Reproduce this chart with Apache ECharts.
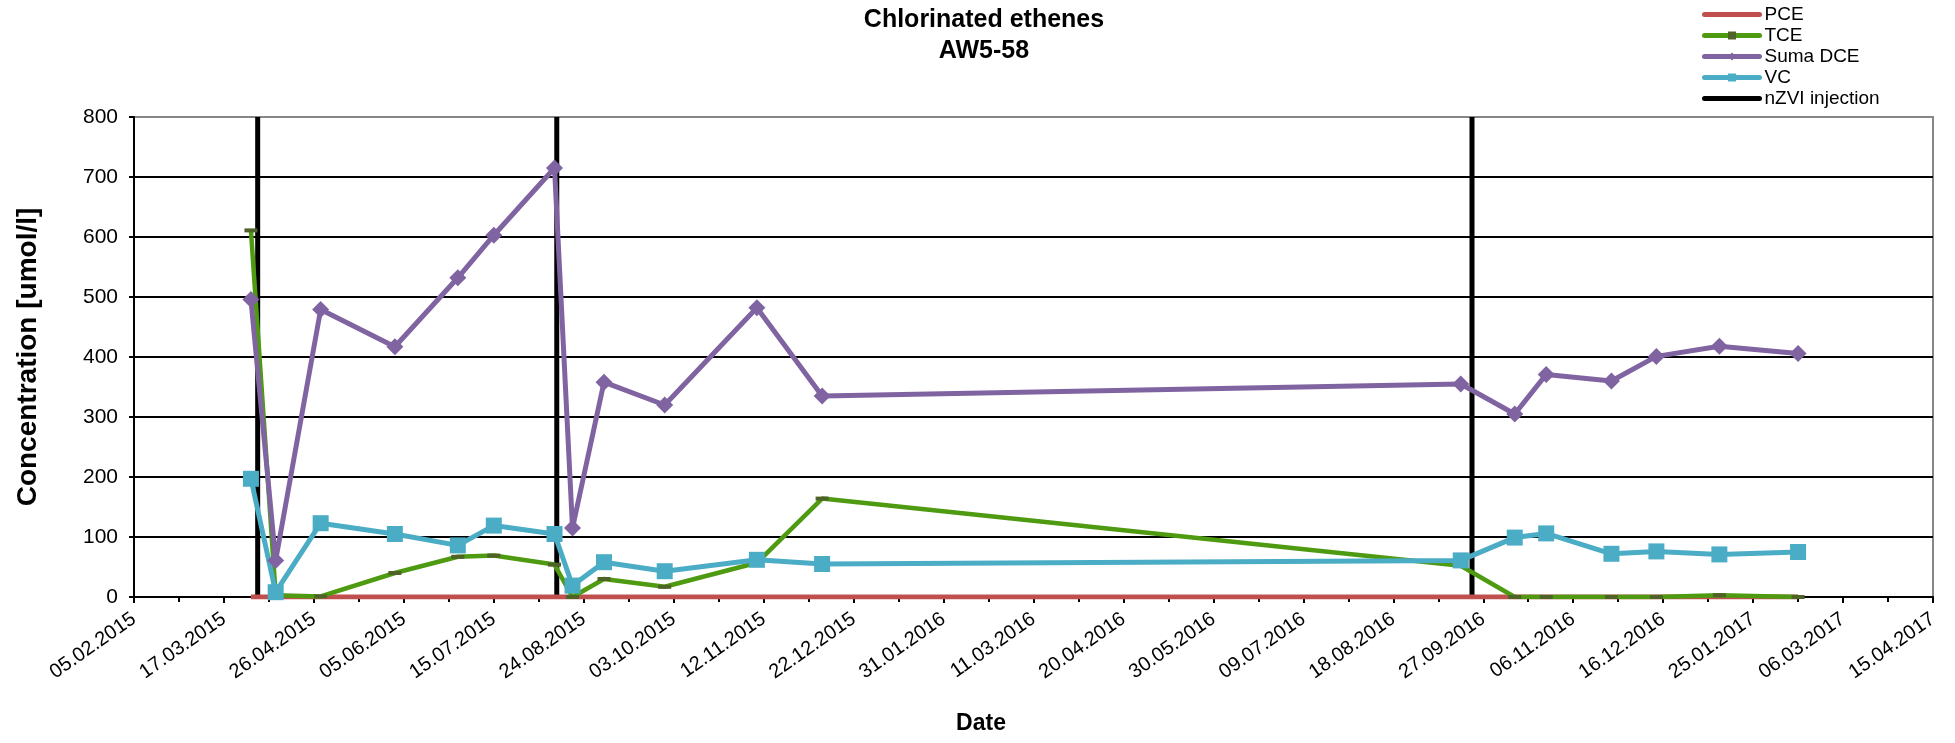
<!DOCTYPE html>
<html>
<head>
<meta charset="utf-8">
<script src="https://cdn.jsdelivr.net/npm/echarts@6/dist/echarts.min.js"></script>
<style>
html,body{margin:0;padding:0;background:#fff;}
#chart{width:1955px;height:743px;}
</style>
</head>
<body>
<div id="chart"></div>
<script>
// ---- data ----
var baseDate = '2015-02-05';           // axis start (05.02.2015)
var endDate = '2017-04-15';            // axis end (15.04.2017)
var sampleDates = ['2015-03-29','2015-04-09','2015-04-29','2015-06-01','2015-06-29','2015-07-15','2015-08-11','2015-08-19','2015-09-02','2015-09-29','2015-11-09','2015-12-08','2016-09-17','2016-10-11','2016-10-25','2016-11-23','2016-12-13','2017-01-10','2017-02-14'];
var pce = [0,0,0,0,0,0,0,0,0,0,0,0,0,0,0,0,0,0,0];
var tce = [611,3,1,40,67,69,54,0,30,17,57,164,52,0,0,0,0,3,0];
var sumaDce = [496,61,479,417,532,603,715,115,358,320,482,335,355,305,371,360,401,418,406];
var vc = [197,8,123,105,86,119,105,19,58,43,62,55,61,99,106,72,76,71,75];
var injectionDates = ['2015-04-01','2015-08-12','2016-09-22'];
var yTicks = [0,100,200,300,400,500,600,700,800];

// ---- helpers ----
var DAY = 86400000;
function toMs(s){ var p = s.split('-'); return Date.UTC(+p[0], +p[1]-1, +p[2]); }
function dayOf(s){ return Math.round((toMs(s) - toMs(baseDate)) / DAY); }
function fmt(v){
  var d = new Date(toMs(baseDate) + Math.round(v) * DAY);
  var dd = ('0' + d.getUTCDate()).slice(-2), mm = ('0' + (d.getUTCMonth()+1)).slice(-2);
  return dd + '.' + mm + '.' + d.getUTCFullYear();
}
function pairs(vals){ return sampleDates.map(function(s,i){ return [dayOf(s), vals[i]]; }); }

var FONT = '"Liberation Sans", Arial, sans-serif';
var chart = echarts.init(document.getElementById('chart'), null, {renderer:'canvas'});

var series = [
  {name:'PCE', type:'line', data:pairs(pce), symbol:'none', z:3,
   lineStyle:{color:'#C0504D', width:5}, itemStyle:{color:'#C0504D'}},
  {name:'TCE', type:'line', data:pairs(tce), symbol:'rect', symbolSize:[13,4], z:3,
   lineStyle:{color:'#4E9A10', width:4.5}, itemStyle:{color:'#4F6228'}},
  {name:'Suma DCE', type:'line', data:pairs(sumaDce), symbol:'diamond', symbolSize:[17,17], z:3,
   lineStyle:{color:'#8064A2', width:5}, itemStyle:{color:'#8064A2'}},
  {name:'VC', type:'line', data:pairs(vc), symbol:'rect', symbolSize:16, z:3,
   lineStyle:{color:'#4BACC6', width:5}, itemStyle:{color:'#4BACC6'}}
];
injectionDates.forEach(function(s){
  series.push({name:'nZVI injection', type:'line', data:[[dayOf(s), yTicks[0]],[dayOf(s), yTicks[yTicks.length-1]]],
    symbol:'none', z:1, lineStyle:{color:'#000', width:5}, itemStyle:{color:'#000'}});
});

var option = {
  backgroundColor:'#fff',
  animation:false,
  textStyle:{fontFamily:FONT},
  legend:{
    orient:'vertical', left:1697, top:0, itemGap:2, itemWidth:55, itemHeight:10,
    lineStyle:{width:5, cap:'round'},
    data:[{name:'PCE', itemStyle:{opacity:0}},'TCE','Suma DCE','VC',{name:'nZVI injection', itemStyle:{opacity:0}}],
    textStyle:{fontSize:19, color:'#000', fontFamily:FONT, padding:[0,0,0,0]}
  },
  grid:{left:134, right:22, top:117, bottom:146, show:true, borderColor:'#868686', borderWidth:2, backgroundColor:'transparent'},
  xAxis:{
    type:'value', min:0, max:dayOf(endDate), interval:40,
    axisLine:{show:true, onZero:false, lineStyle:{color:'#000', width:2}},
    axisTick:{show:true, length:6, lineStyle:{color:'#000', width:2}},
    minorTick:{show:true, splitNumber:2, length:5, lineStyle:{color:'#000', width:2}},
    splitLine:{show:false},
    axisLabel:{rotate:35, fontSize:20, color:'#000', fontFamily:FONT, margin:20, formatter:fmt, showMaxLabel:true, showMinLabel:true}
  },
  yAxis:{
    type:'value', min:yTicks[0], max:yTicks[yTicks.length-1], interval:100,
    name:'Concentration [umol/l]', nameLocation:'middle', nameGap:92, nameRotate:90,
    nameTextStyle:{fontSize:28, fontWeight:'bold', color:'#000', fontFamily:FONT},
    axisLine:{show:true, lineStyle:{color:'#000', width:2}},
    axisTick:{show:true, length:5, lineStyle:{color:'#000', width:2}},
    splitLine:{show:true, showMaxLine:false, lineStyle:{color:'#000', width:2}},
    axisLabel:{fontSize:21, color:'#000', fontFamily:FONT, margin:16}
  },
  graphic:[
    {type:'text', x:984, y:5, z:10, style:{text:'Chlorinated ethenes\nAW5-58', textAlign:'center',
      fontSize:25, fontWeight:'bold', fontFamily:FONT, lineHeight:31, fill:'#000'}},
    {type:'text', x:981, y:712, z:10, style:{text:'Date', textAlign:'center',
      fontSize:23, fontWeight:'bold', fontFamily:FONT, fill:'#000'}}
  ],
  series:series
};
chart.setOption(option);
</script>
</body>
</html>
